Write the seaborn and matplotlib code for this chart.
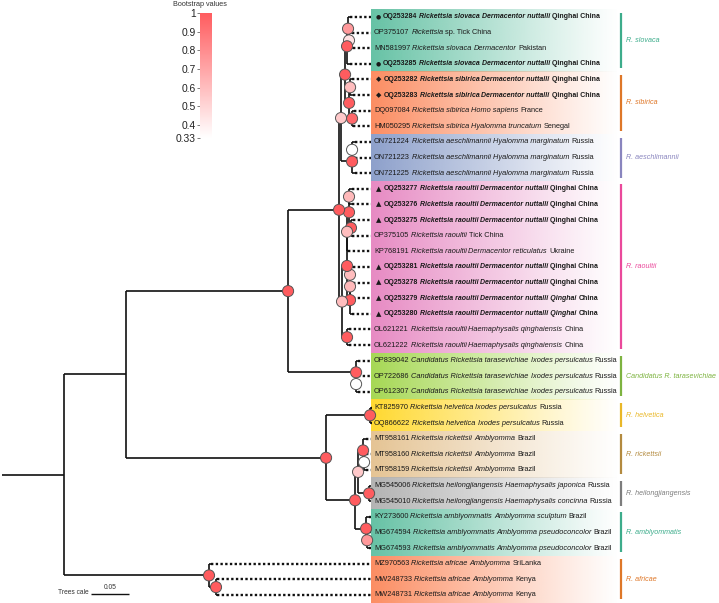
import numpy as np
import matplotlib
matplotlib.use("Agg")
import matplotlib.pyplot as plt
from matplotlib.colors import LinearSegmentedColormap, Normalize
from matplotlib.cm import ScalarMappable
import pandas as pd
import seaborn as sns

# clades as newick (bootstrap support as node labels, branch lengths in subst./site)
slovaca = "((OQ253284:0.0026,(OP375107:0.0039,MN581997:0.0053)0.45:0.0013)0.75:0.0013,OQ253285:0.0039)1"
sibirica = "((OQ253282:0.0026,OQ253283:0.0039)0.6:0.0013,(DQ097084:0.0026,HM050295:0.0013)0.95:0.0039)1"
aeschlimannii = "((ON721224:0.0039,ON721223:0.0039)0.33:0,ON721225:0.0039)1"
raoultii_a = "(((OQ253277:0.0039,OQ253276:0.0039)0.62:0,(OQ253275:0.0026,OP375105:0.0013)1:0.0026)1:0.0026,KP768191:0.0013)0.6"
raoultii_b = "(((OQ253281:0.0039,OQ253278:0.0039)0.6:0,OQ253279:0.0039)0.62:0,OQ253280:0.0026)1"
raoultii_c = "(OL621221:0.0026,OL621222:0.0026)1"
tarasevichiae = "(OP839042:0.0026,(OP722686:0.0026,OP612307:0.0026)0.33:0)1"
helvetica = "(KT825970:0.0026,OQ866622:0.0026)1"
rickettsii = "(MT958161:0.0039,(MT958160:0.0026,MT958159:0.0026)0.33:0.0013)1"
heilongjiangensis = "(MG545006:0.0026,MG545010:0.0026)1"
amblyommatis = "(KY273600:0.0039,(MG674594:0.0026,MG674593:0.0026)0.75:0.0013)1"
africae = "(MZ970563:0.0026,(MW248733:0.0013,MW248731:0.0013)1:0.0092)1"

# backbone
raoultii = f"(({raoultii_a}:0,{raoultii_b}:0.0039)1:0.0066,{raoultii_c}:0.0066)0.6"
sp_group = f"(((({slovaca}:0.0026,{sibirica}:0.0053)1:0.0053,{aeschlimannii}:0.0145)0.55:0.0026,{raoultii}:0.0039)1:0.0671,{tarasevichiae}:0.0895)1"
tg_group = f"({helvetica}:0.0579,(({rickettsii}:0.0066,{heilongjiangensis}:0.0145)0.55:0.0039,{amblyommatis}:0.0145)1:0.0382)1"
tree_newick = f"(({sp_group}:0.2132,{tg_group}:0.2632):0.0816,{africae}:0.1908):0.0816;"

accessions = ["OQ253284", "OP375107", "MN581997", "OQ253285", "OQ253282", "OQ253283", "DQ097084", "HM050295",
              "ON721224", "ON721223", "ON721225", "OQ253277", "OQ253276", "OQ253275", "OP375105", "KP768191",
              "OQ253281", "OQ253278", "OQ253279", "OQ253280", "OL621221", "OL621222", "OP839042", "OP722686",
              "OP612307", "KT825970", "OQ866622", "MT958161", "MT958160", "MT958159", "MG545006", "MG545010",
              "KY273600", "MG674594", "MG674593", "MZ970563", "MW248733", "MW248731"]
organisms = ["Rickettsia slovaca", "Rickettsia", "Rickettsia slovaca", "Rickettsia slovaca",
             "Rickettsia sibirica", "Rickettsia sibirica", "Rickettsia sibirica", "Rickettsia sibirica",
             "Rickettsia aeschlimannii", "Rickettsia aeschlimannii", "Rickettsia aeschlimannii",
             "Rickettsia raoultii", "Rickettsia raoultii", "Rickettsia raoultii", "Rickettsia raoultii",
             "Rickettsia raoultii", "Rickettsia raoultii", "Rickettsia raoultii", "Rickettsia raoultii",
             "Rickettsia raoultii", "Rickettsia raoultii", "Rickettsia raoultii",
             "Candidatus Rickettsia tarasevichiae", "Candidatus Rickettsia tarasevichiae",
             "Candidatus Rickettsia tarasevichiae", "Rickettsia helvetica", "Rickettsia helvetica",
             "Rickettsia rickettsii", "Rickettsia rickettsii", "Rickettsia rickettsii",
             "Rickettsia heilongjiangensis", "Rickettsia heilongjiangensis",
             "Rickettsia amblyommatis", "Rickettsia amblyommatis", "Rickettsia amblyommatis",
             "Rickettsia africae", "Rickettsia africae", "Rickettsia africae"]
hosts = ["Dermacentor nuttalli", "", "Dermacentor", "Dermacentor nuttalli",
         "Dermacentor nuttalli", "Dermacentor nuttalli", "Homo sapiens", "Hyalomma truncatum",
         "Hyalomma marginatum", "Hyalomma marginatum", "Hyalomma marginatum",
         "Dermacentor nuttalli", "Dermacentor nuttalli", "Dermacentor nuttalli", "",
         "Dermacentor reticulatus", "Dermacentor nuttalli", "Dermacentor nuttalli",
         "Dermacentor nuttalli Qinghai", "Dermacentor nuttalli Qinghai",
         "Haemaphysalis qinghaiensis", "Haemaphysalis qinghaiensis",
         "Ixodes persulcatus", "Ixodes persulcatus", "Ixodes persulcatus",
         "Ixodes persulcatus", "Ixodes persulcatus", "Amblyomma", "Amblyomma", "Amblyomma",
         "Haemaphysalis japonica", "Haemaphysalis concinna", "Amblyomma sculptum",
         "Amblyomma pseudoconcolor", "Amblyomma pseudoconcolor", "Amblyomma", "Amblyomma", "Amblyomma"]
places = ["Qinghai China", "sp. Tick China", "Pakistan", "Qinghai China",
          "Qinghai China", "Qinghai China", "France", "Senegal", "Russia", "Russia", "Russia",
          "Qinghai China", "Qinghai China", "Qinghai China", "Tick China", "Ukraine",
          "Qinghai China", "Qinghai China", "China", "China", "China", "China",
          "Russia", "Russia", "Russia", "Russia", "Russia", "Brazil", "Brazil", "Brazil",
          "Russia", "Russia", "Brazil", "Brazil", "Brazil", "SriLanka", "Kenya", "Kenya"]
marks = ["●", "", "", "●", "◆", "◆", "", "", "", "", "",
         "▲", "▲", "▲", "", "", "▲", "▲", "▲", "▲", "", "",
         "", "", "", "", "", "", "", "", "", "", "", "", "", "", "", ""]

clade_names = ["R. slovaca", "R. sibirica", "R. aeschlimannii", "R. raoultii",
               "Candidatus R. tarasevichiae", "R. helvetica", "R. rickettsii",
               "R. heilongjiangensis", "R. amblyommatis", "R. africae"]
clade_first = [0, 4, 8, 11, 22, 25, 27, 30, 32, 35]
clade_last = [3, 7, 10, 21, 24, 26, 29, 31, 34, 37]

bootstrap_ticks = [0.33, 0.4, 0.5, 0.6, 0.7, 0.8, 0.9, 1]
scale_length = 0.05


def parse_newick(s):
    s = "".join(s.split()).rstrip(";")
    pos = 0

    def node():
        nonlocal pos
        n = {"children": [], "name": "", "length": 0.0}
        if s[pos] == "(":
            pos += 1
            while True:
                n["children"].append(node())
                if s[pos] == ",":
                    pos += 1
                    continue
                pos += 1
                break
        start = pos
        while pos < len(s) and s[pos] not in ",():":
            pos += 1
        n["name"] = s[start:pos]
        if pos < len(s) and s[pos] == ":":
            pos += 1
            start = pos
            while pos < len(s) and s[pos] not in ",()":
                pos += 1
            n["length"] = float(s[start:pos])
        return n
    return node()


root = parse_newick(tree_newick)
hseg, vseg, tips, nodes = [], [], [], []


def layout(n, x0):
    x = x0 + n["length"]
    if n["children"]:
        ys = [layout(c, x) for c in n["children"]]
        y = (ys[0] + ys[-1]) / 2
        vseg.append((x, ys[0], ys[-1]))
        if n["name"]:
            nodes.append((x, y, float(n["name"])))
    else:
        y = accessions.index(n["name"])
        tips.append((x, y))
    hseg.append((y, x0, x))
    return y


layout(root, 0.0)

# pixel helpers (figure is 719 x 603 px, scale bar 0.05 = 38 px)
PX = scale_length / 38.0
def px2x(p):
    return (p - 2) * PX

LEAF_DY = 15.62
LABEL_X = px2x(374)
DOT_END = px2x(371)
BAND_L, BAND_R = px2x(371), px2x(619)
BAR_X = px2x(621)
FS = 5.35
FS_BOLD = 5.0

sns.set_style("white")
plt.rcParams["font.family"] = ["Liberation Sans", "DejaVu Sans"]

fig = plt.figure(figsize=(7.19, 6.03), dpi=100)
ax = fig.add_axes([0, 0, 1, 1])

band_cols = sns.color_palette("Set2", 8)
bar_cols = sns.color_palette("Dark2", 8)

for i, (name, a, b) in enumerate(zip(clade_names, clade_first, clade_last)):
    c = band_cols[i % 8]
    grad = np.zeros((1, 256, 4))
    grad[..., :3] = c
    grad[..., 3] = np.linspace(1, 0, 256) ** 1.1
    ax.imshow(grad, extent=[BAND_L, BAND_R, b + 0.5, a - 0.5], aspect="auto",
              interpolation="bilinear", zorder=0)
    bc = bar_cols[i % 8]
    ax.vlines(BAR_X, a - 0.28, b + 0.28, color=bc, lw=1.6, alpha=0.85)
    ax.text(px2x(626), (a + b) / 2, name, color=bc, alpha=0.85,
            fontsize=5.1, style="italic", va="center", ha="left")

# branches
for y, x0, x1 in hseg:
    ax.hlines(y, x0, x1, color="#111111", lw=1.2, zorder=2)
for x, y0, y1 in vseg:
    ax.vlines(x, y0, y1, color="#111111", lw=1.2, zorder=2)
for x, y in tips:
    ax.hlines(y, x, DOT_END, color="#111111", lw=1.7, linestyles=(0, (1, 1)), zorder=2)

# bootstrap circles
bs_cmap = LinearSegmentedColormap.from_list("bs", ["#ffffff", "#ff5c5f"])
node_df = pd.DataFrame(nodes, columns=["x", "y", "bootstrap"])
sns.scatterplot(data=node_df, x="x", y="y", hue="bootstrap", palette=bs_cmap,
                hue_norm=(0.33, 1), s=64, edgecolor="#555555", linewidth=0.7,
                legend=False, ax=ax, zorder=5)

# tip labels, built piece by piece (italic names, bold for this study)
for i in range(len(accessions)):
    bold = "bold" if marks[i] else "normal"
    fs = FS_BOLD if marks[i] else FS
    pieces = []
    if marks[i]:
        pieces.append((marks[i], "normal", "normal", ["DejaVu Sans"], 4.2 if marks[i] == "●" else 5))
    pieces.append((accessions[i], "normal", bold, None, fs))
    pieces.append((organisms[i], "italic", bold, None, fs))
    if hosts[i]:
        pieces.append((hosts[i], "italic", bold, None, fs))
    pieces.append((places[i], "normal", bold, None, fs))
    prev = None
    for txt, st, wt, fam, size in pieces:
        kw = dict(fontsize=size, style=st, weight=wt, color="#1a1a1a", va="center", ha="left", zorder=6)
        if fam:
            kw["family"] = fam
        if prev is None:
            prev = ax.text(LABEL_X + (px2x(2) - px2x(0) if marks[i] else 0), i, txt, **kw)
        else:
            prev = ax.annotate(txt, xy=(1, 0.5), xycoords=prev, xytext=(1.4, 0),
                               textcoords="offset points", **kw)

# scale bar
sb_y = (594 - 17) / LEAF_DY
sb_x0 = px2x(91)
ax.hlines(sb_y, sb_x0, sb_x0 + scale_length, color="#111111", lw=1.0)
ax.text(sb_x0 + scale_length / 2, sb_y - 0.2, "0.05", fontsize=4.8, ha="center", va="bottom", color="#333333")
ax.text(sb_x0 - px2x(4) + px2x(2), sb_y - 0.1, "Trees cale", fontsize=4.8, ha="right", va="center", color="#333333")

ax.set_xlim(px2x(0), px2x(719))
ax.set_ylim((603 - 17) / LEAF_DY, -17 / LEAF_DY)
ax.axis("off")

# bootstrap colour legend
cax = fig.add_axes([200 / 719, 1 - 138 / 603, 12 / 719, 125 / 603])
cb = fig.colorbar(ScalarMappable(Normalize(0.33, 1), bs_cmap), cax=cax, ticks=bootstrap_ticks)
cb.outline.set_visible(False)
cax.yaxis.set_ticks_position("left")
cax.set_yticklabels([("%g" % t) for t in bootstrap_ticks], fontsize=7.4, color="#222222")
cax.tick_params(length=2, width=0.6, color="#666666", pad=1)
fig.text(200 / 719, 1 - 4 / 603, "Bootstrap values", fontsize=5.2, color="#333333",
         ha="center", va="center")

fig.savefig("out.png", dpi=100)
